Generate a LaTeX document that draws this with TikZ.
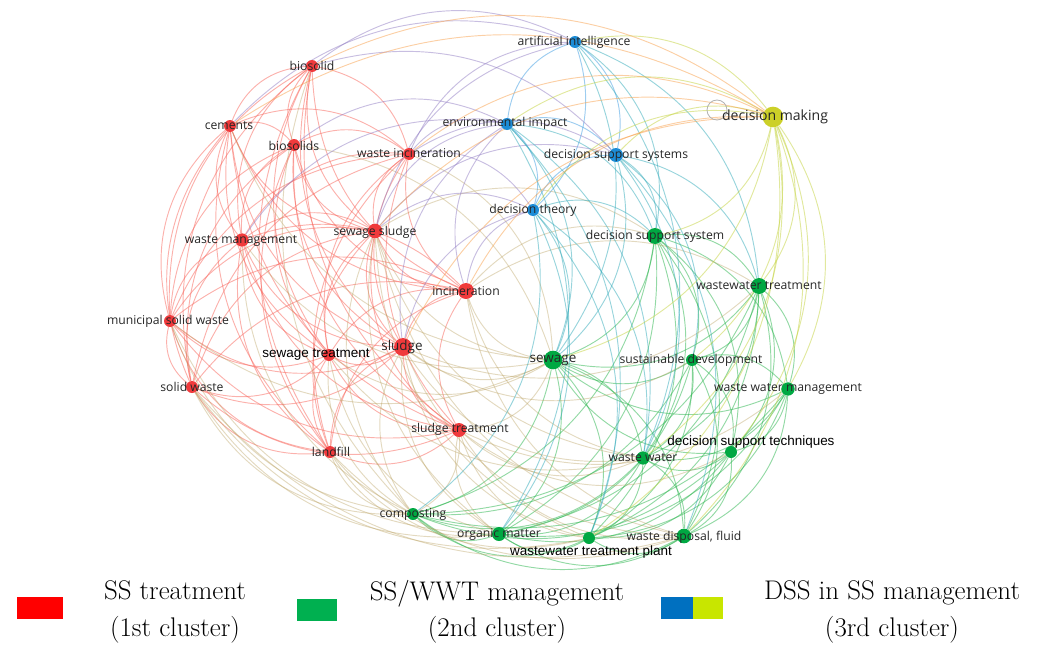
\documentclass[tikz,border=0pt]{standalone}
\usepackage{fontspec}
\usetikzlibrary{backgrounds,calc}

\newfontfamily\kwfont{Open Sans}
\newfontfamily\kwbold{Liberation Sans}

\definecolor{rednode}{RGB}{240,58,60}
\definecolor{greennode}{RGB}{0,168,66}
\definecolor{bluenode}{RGB}{28,140,214}
\definecolor{yellownode}{RGB}{204,208,40}
\definecolor{redline}{RGB}{248,100,90}
\definecolor{greenline}{RGB}{40,180,75}
\definecolor{blueline}{RGB}{60,155,225}
\definecolor{oliveline}{RGB}{185,160,95}
\definecolor{purpleline}{RGB}{145,125,195}
\definecolor{tealline}{RGB}{50,170,185}
\definecolor{orangeline}{RGB}{248,160,75}
\definecolor{limeline}{RGB}{195,210,60}
\definecolor{legred}{RGB}{255,0,0}
\definecolor{leggreen}{RGB}{0,176,80}
\definecolor{legblue}{RGB}{0,112,192}
\definecolor{leglime}{RGB}{200,230,0}

% curved link that bows away from the centre of the map
\newcommand{\conn}[3]{%
  \draw[#1] let \p1=(#2), \p2=(#3), \p3=(ctr),
    \n1={-32*sign(((\x2-\x1)/100)*((\y3-\y1)/100)-((\y2-\y1)/100)*((\x3-\x1)/100))}
  in (#2) to[bend left=\n1] (#3);}

\begin{document}
\begin{tikzpicture}[x=0.03cm, y=-0.03cm,
    kw/.style={font=\kwfont\fontsize{10.4}{12}\selectfont, text=black!85, inner sep=0pt},
    kwbig/.style={kw, font=\kwfont\fontsize{11.5}{13}\selectfont},
    kwb/.style={font=\kwbold\fontsize{11.5}{13}\selectfont, text=black, inner sep=0pt},
    dot/.style={circle, inner sep=0pt, minimum size=0.36cm},
    rnode/.style={dot, fill=rednode},
    gnode/.style={dot, fill=greennode},
    bnode/.style={dot, fill=bluenode},
    ynode/.style={dot, fill=yellownode},
    line/.style={line width=0.8pt, opacity=0.5},
    redge/.style={line, draw=redline},
    gedge/.style={line, draw=greenline},
    bedge/.style={line, draw=blueline},
    oedge/.style={line, draw=oliveline, opacity=0.4},
    pedge/.style={line, draw=purpleline},
    tedge/.style={line, draw=tealline},
    aedge/.style={line, draw=orangeline},
    ledge/.style={line, draw=limeline},
    legbox/.style={inner sep=0pt, minimum height=0.66cm},
    legtext/.style={align=center, font=\fontsize{23}{31}\selectfont}]

\useasboundingbox (0,0) rectangle (1046,644);
\coordinate (ctr) at (480,300);

% 1st cluster
\node[rnode] (bsolid) at (312,66) {};
\node[rnode] (cements) at (230,126) {};
\node[rnode] (bsolids) at (294,145) {};
\node[rnode] (wincin) at (409,154) {};
\node[rnode, minimum size=0.44cm] (ssludge) at (375,231) {};
\node[rnode, minimum size=0.4cm] (wmanage) at (242,240) {};
\node[rnode, minimum size=0.48cm] (incin) at (466,291) {};
\node[rnode] (msw) at (170,321) {};
\node[rnode] (streat) at (329,355) {};
\node[rnode, minimum size=0.54cm] (sludge) at (403,347) {};
\node[rnode] (swaste) at (192,387) {};
\node[rnode, minimum size=0.42cm] (sltreat) at (459,430) {};
\node[rnode] (landfill) at (330,452) {};

% 2nd cluster
\node[gnode, minimum size=0.48cm] (dssys) at (655,236) {};
\node[gnode, minimum size=0.48cm] (wwtreat) at (759,286) {};
\node[gnode, minimum size=0.56cm] (sewage) at (553,360) {};
\node[gnode] (sustdev) at (692,360) {};
\node[gnode, minimum size=0.4cm] (wwmanage) at (788,389) {};
\node[gnode] (dstech) at (731,452) {};
\node[gnode, minimum size=0.4cm] (wwater) at (643,458) {};
\node[gnode] (compost) at (413,514) {};
\node[gnode, minimum size=0.42cm] (orgmat) at (499,534) {};
\node[gnode] (wwtp) at (589,538) {};
\node[gnode, minimum size=0.44cm] (wdisp) at (684,536) {};

% 3rd cluster
\node[bnode] (artint) at (575,42) {};
\node[bnode] (envimp) at (507,124) {};
\node[bnode, minimum size=0.42cm] (dssyss) at (616,155) {};
\node[bnode] (dtheory) at (533,210) {};
\node[ynode, minimum size=0.62cm] (dmaking) at (773,117) {};
\node[circle, draw=gray!60, line width=0.7pt, minimum size=0.6cm] (cursor) at (717,110) {};

% links
\begin{scope}[on background layer]
  \def\redlist{bsolid,cements,bsolids,wincin,ssludge,wmanage,incin,msw,streat,sludge,swaste,sltreat,landfill}
  \foreach [count=\i] \a in \redlist {
    \foreach [count=\j] \b in \redlist {
      \ifnum\j>\i \conn{redge}{\a}{\b}\fi
    }
  }
  \def\greenlist{dssys,wwtreat,sewage,sustdev,wwmanage,dstech,wwater,compost,orgmat,wwtp,wdisp}
  \foreach [count=\i] \a in \greenlist {
    \foreach [count=\j] \b in \greenlist {
      \ifnum\j>\i \conn{gedge}{\a}{\b}\fi
    }
  }
  \foreach \a/\b in {artint/envimp, artint/dssyss, artint/dtheory,
      envimp/dssyss, envimp/dtheory, dssyss/dtheory}
    \conn{bedge}{\a}{\b};
  \foreach \a/\b in {sludge/sewage, sludge/wwater, sludge/wwtp, sludge/orgmat,
      sludge/compost, sludge/wdisp, sludge/wwtreat, sludge/sustdev,
      ssludge/sewage, ssludge/wwater, ssludge/compost, ssludge/orgmat,
      ssludge/wwtp, ssludge/wdisp, ssludge/dssys,
      incin/sewage, incin/wwater, incin/wwtreat, incin/dssys, incin/wdisp,
      sltreat/sewage, sltreat/wwater, sltreat/wwtp, sltreat/compost,
      sltreat/orgmat, sltreat/wdisp, sltreat/wwmanage, sltreat/dstech,
      streat/sewage, streat/compost, streat/wwater, streat/orgmat,
      landfill/compost, landfill/orgmat, landfill/wwtp, landfill/wdisp,
      swaste/compost, swaste/orgmat, swaste/wdisp, swaste/wwtp,
      msw/compost, msw/sewage, msw/orgmat, wmanage/sewage, wmanage/compost,
      bsolids/sewage, bsolid/compost, cements/sewage, wincin/sewage}
    \conn{oedge}{\a}{\b};
  \foreach \a/\b in {artint/bsolid, artint/wincin, artint/ssludge, artint/cements,
      envimp/wincin, envimp/ssludge, envimp/incin, envimp/sludge,
      envimp/wmanage, envimp/bsolids, dssyss/wincin, dssyss/ssludge,
      dssyss/bsolid, dtheory/incin, dtheory/sludge, dtheory/ssludge,
      dtheory/wincin}
    \conn{pedge}{\a}{\b};
  \foreach \a/\b in {artint/dssys, artint/wwtreat, artint/wwater, artint/sewage,
      envimp/sewage, envimp/wwtp, envimp/orgmat, envimp/wwater, envimp/dssys,
      dssyss/dssys, dssyss/wwtreat, dssyss/sewage, dssyss/wwater,
      dssyss/wdisp, dssyss/sustdev, dtheory/sewage, dtheory/wwater,
      dtheory/wwtp, dtheory/orgmat, dtheory/dssys, dtheory/compost}
    \conn{tedge}{\a}{\b};
  \foreach \a/\b in {dmaking/dssys, dmaking/wwtreat, dmaking/sustdev,
      dmaking/wwmanage, dmaking/dstech, dmaking/wwater, dmaking/sewage,
      dmaking/wdisp, dmaking/wwtp, dmaking/artint, dmaking/envimp,
      dmaking/dssyss, dmaking/dtheory}
    \conn{ledge}{\a}{\b};
  \foreach \a/\b in {dmaking/bsolid, dmaking/cements, dmaking/wincin,
      dmaking/ssludge, dmaking/incin, dmaking/sludge}
    \conn{aedge}{\a}{\b};
\end{scope}

% labels
\node[kw] (artint-t) at (574,42) {artificial intelligence};
\node[kw, font=\kwfont\fontsize{12}{14}\selectfont] (dmaking-t) at (775,117) {decision making};
\node[kw] (envimp-t) at (505,123) {environmental impact};
\node[kw] (dssyss-t) at (616,155) {decision support systems};
\node[kw] (dtheory-t) at (533,210) {decision theory};
\node[kw] (dssys-t) at (655,236) {decision support system};
\node[kw] (wwtreat-t) at (759,286) {wastewater treatment};
\node[kw] (bsolid-t) at (312,66) {biosolid};
\node[kw] (cements-t) at (229,126) {cements};
\node[kw] (bsolids-t) at (294,146) {biosolids};
\node[kw] (wincin-t) at (409,153) {waste incineration};
\node[kw] (ssludge-t) at (375,232) {sewage sludge};
\node[kw] (wmanage-t) at (241,241) {waste management};
\node[kw] (incin-t) at (466,291) {incineration};
\node[kw] (msw-t) at (168,321) {municipal solid waste};
\node[kwb] (streat-t) at (316,355) {sewage treatment};
\node[kwbig] (sludge-t) at (402,347) {sludge};
\node[kwbig] (sewage-t) at (553,360) {sewage};
\node[kw] (sustdev-t) at (691,360) {sustainable development};
\node[kw] (wwmanage-t) at (788,389) {waste water management};
\node[kw] (swaste-t) at (192,387) {solid waste};
\node[kw] (sltreat-t) at (460,429) {sludge treatment};
\node[kwb] (dstech-t) at (751,442) {decision support techniques};
\node[kw] (wwater-t) at (643,458) {waste water};
\node[kw] (landfill-t) at (331,452) {landfill};
\node[kw] (compost-t) at (413,514) {composting};
\node[kw] (orgmat-t) at (499,534) {organic matter};
\node[kwb] (wwtp-t) at (591,552) {wastewater treatment plant};
\node[kw] (wdisp-t) at (684,537) {waste disposal, fluid};

% legend
\node[legbox, fill=legred, minimum width=1.38cm] (leg1) at (40,608) {};
\node[legtext] (leg1-t) at (175,612) {SS treatment\\(1st cluster)};
\node[legbox, fill=leggreen, minimum width=1.2cm] (leg2) at (317,610) {};
\node[legtext] (leg2-t) at (497,612) {SS/WWT management\\(2nd cluster)};
\node[legbox, fill=legblue, minimum width=0.96cm] (leg3) at (677,608) {};
\node[legbox, fill=leglime, minimum width=0.9cm] (leg4) at (708,608) {};
\node[legtext] (leg3-t) at (892,612) {DSS in SS management\\(3rd cluster)};
\end{tikzpicture}
\end{document}
